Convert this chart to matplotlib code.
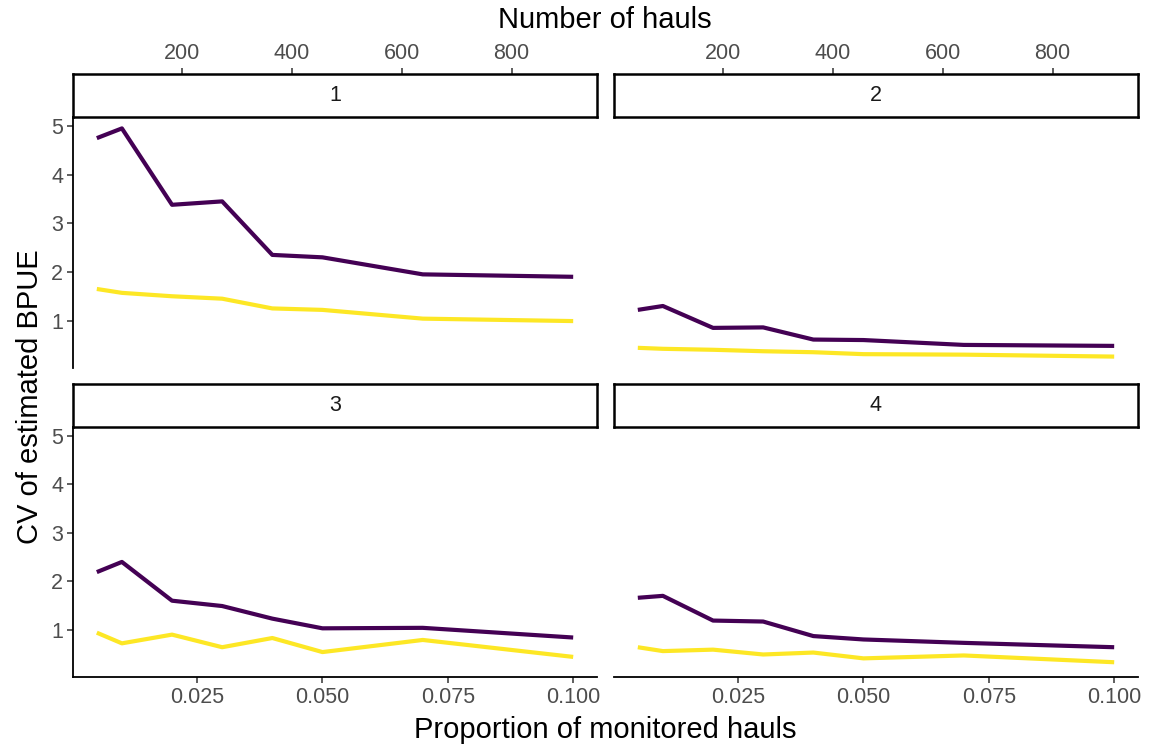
import matplotlib
matplotlib.use("Agg")
import matplotlib.pyplot as plt

plt.rcParams['font.family'] = ['Liberation Sans', 'DejaVu Sans']

# data
prop = [0.005, 0.01, 0.02, 0.03, 0.04, 0.05, 0.07, 0.1]
panels = ["1", "2", "3", "4"]
dark_1 = [4.75, 4.95, 3.38, 3.45, 2.35, 2.30, 1.95, 1.90]
yel_1 = [1.65, 1.57, 1.50, 1.45, 1.25, 1.22, 1.04, 0.99]
dark_2 = [1.22, 1.30, 0.85, 0.86, 0.61, 0.60, 0.50, 0.48]
yel_2 = [0.44, 0.42, 0.40, 0.37, 0.35, 0.31, 0.30, 0.26]
dark_3 = [2.19, 2.40, 1.60, 1.49, 1.23, 1.03, 1.04, 0.84]
yel_3 = [0.94, 0.72, 0.90, 0.64, 0.83, 0.54, 0.79, 0.44]
dark_4 = [1.66, 1.70, 1.19, 1.17, 0.87, 0.80, 0.73, 0.64]
yel_4 = [0.64, 0.56, 0.59, 0.49, 0.53, 0.41, 0.47, 0.33]
x_ticks = [0.025, 0.050, 0.075, 0.100]
x_ticklabels = ["0.025", "0.050", "0.075", "0.100"]
y_ticks = [1, 2, 3, 4, 5]
haul_ticks = [200, 400, 600, 800]
N_HAULS = 9120  # total hauls, proportion -> number of hauls

darks = [dark_1, dark_2, dark_3, dark_4]
yels = [yel_1, yel_2, yel_3, yel_4]

DARK = "#440154"
YELLOW = "#FDE725"
TICK_COL = "#4D4D4D"
TICK_FS = 15.5
TITLE_FS = 21

W, H = 1149, 749
fig = plt.figure(figsize=(W / 100, H / 100), dpi=100)


def box(x0, y0, x1, y1):
    return [x0 / W, 1 - y1 / H, (x1 - x0) / W, (y1 - y0) / H]


def expand(lo, hi, f=0.05):
    d = (hi - lo) * f
    return lo - d, hi + d


xlim = expand(min(prop), max(prop))
allv = [v for s in darks + yels for v in s]
ylim = expand(min(allv), max(allv))

cols = [(73, 597), (614, 1138)]
rows = [(117, 368), (427, 677)]
strips = [(74, 117), (384, 427)]

for i in range(4):
    r, c = divmod(i, 2)
    x0, x1 = cols[c]
    y0, y1 = rows[r]
    ax = fig.add_axes(box(x0, y0, x1, y1))
    ax.plot(prop, darks[i], color=DARK, lw=3.0, solid_capstyle='butt')
    ax.plot(prop, yels[i], color=YELLOW, lw=3.0, solid_capstyle='butt')
    ax.set_xlim(xlim)
    ax.set_ylim(ylim)
    for s in ['top', 'right']:
        ax.spines[s].set_visible(False)
    ax.spines['left'].set_visible(c == 0)
    ax.spines['bottom'].set_visible(r == 1)
    ax.spines['left'].set_linewidth(1.3)
    ax.spines['bottom'].set_linewidth(1.3)
    ax.set_xticks(x_ticks)
    ax.set_yticks(y_ticks)
    ax.tick_params(direction='out', length=4, width=1.1, color='#333333',
                   labelsize=TICK_FS, labelcolor=TICK_COL, pad=3)
    if r == 1:
        ax.set_xticklabels(x_ticklabels)
    else:
        ax.tick_params(axis='x', bottom=False, labelbottom=False)
    if c == 1:
        ax.tick_params(axis='y', left=False, labelleft=False)

    # strip
    sy0, sy1 = strips[r]
    sax = fig.add_axes(box(x0, sy0, x1, sy1))
    sax.set_xlim(xlim)
    sax.set_ylim(0, 1)
    sax.set_xticks([])
    sax.set_yticks([])
    for s in sax.spines.values():
        s.set_linewidth(1.8)
        s.set_color('black')
    sax.text(0.5, 0.5, panels[i], transform=sax.transAxes, ha='center',
             va='center', fontsize=TICK_FS, color='#1A1A1A')
    if r == 0:
        sec = sax.secondary_xaxis('top', functions=(lambda p: p * N_HAULS,
                                                    lambda h: h / N_HAULS))
        sec.set_xticks(haul_ticks)
        sec.spines['top'].set_visible(False)
        sec.tick_params(direction='out', length=4, width=1.1, color='#333333',
                        labelsize=TICK_FS, labelcolor=TICK_COL, pad=3)

fig.text(605 / W, 1 - 20 / H, "Number of hauls", ha='center', va='center',
         fontsize=TITLE_FS)
fig.text(605 / W, 1 - 730 / H, "Proportion of monitored hauls", ha='center',
         va='center', fontsize=TITLE_FS)
fig.text(30 / W, 1 - 397 / H, "CV of estimated BPUE", ha='center',
         va='center', rotation=90, fontsize=TITLE_FS)

fig.savefig("out.png", dpi=100, facecolor='white')
